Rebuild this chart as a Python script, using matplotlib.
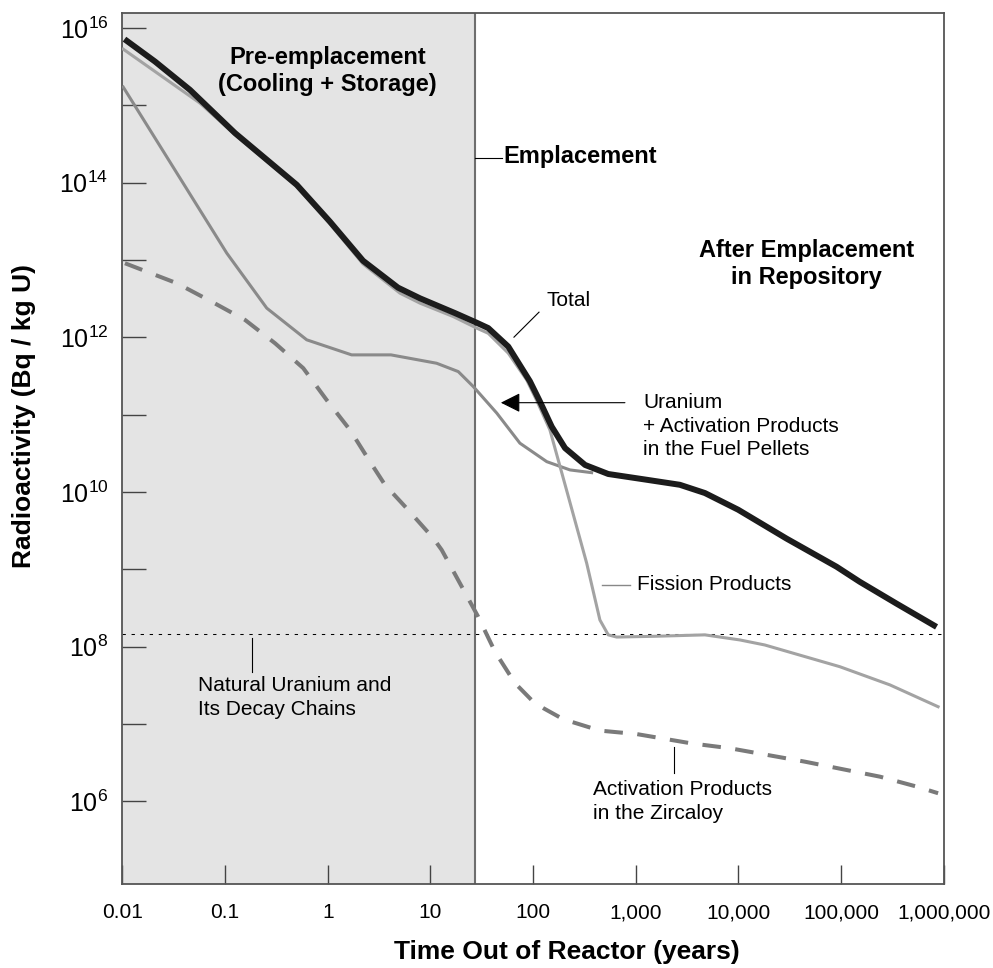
import numpy as np
import matplotlib
matplotlib.use("Agg")
import matplotlib.pyplot as plt
from matplotlib.ticker import NullLocator

plt.rcParams["font.family"] = ["Liberation Sans", "DejaVu Sans"]
plt.rcParams["mathtext.fontset"] = "custom"
plt.rcParams["mathtext.rm"] = "Liberation Sans"
plt.rcParams["mathtext.it"] = "Liberation Sans:italic"
plt.rcParams["mathtext.bf"] = "Liberation Sans:bold"

# ---- data: radioactivity (Bq per kg U) versus time out of reactor (years) ----
total_years = [0.0105, 0.0208, 0.0456, 0.125, 0.5, 1.05, 2.21, 4.84, 7.93, 17.4,
               28.2, 36.6, 57.4, 93.3, 117, 152, 205, 321, 540, 1280,
               2690, 4720, 9950, 29400, 90400, 152000, 347000, 851000]
total_bq = [7.2e15, 3.7e15, 1.59e15, 4.4e14, 9.4e13, 3.15e13, 9.8e12, 4.4e12, 3.2e12, 2.06e12,
            1.55e12, 1.32e12, 7.6e11, 2.7e11, 1.47e11, 7.0e10, 3.7e10, 2.24e10, 1.71e10, 1.44e10,
            1.24e10, 9.7e9, 5.9e9, 2.5e9, 1.08e9, 6.9e8, 3.6e8, 1.8e8]

fission_years = [0.0102, 0.0571, 0.125, 0.5, 1.05, 2.21, 5.06, 7.93, 16.7, 28.2,
                 36.6, 57.4, 86.7, 108, 146, 212, 333, 448, 540, 652,
                 1500, 4720, 10350, 18100, 97300, 299000, 881000]
fission_bq = [5.35e15, 1.07e15, 4.2e14, 8.9e13, 2.95e13, 8.9e12, 3.73e12, 2.77e12, 1.86e12, 1.32e12,
              1.13e12, 6.25e11, 2.82e11, 1.55e11, 6.35e10, 1.06e10, 1.2e9, 2.21e8, 1.42e8, 1.33e8,
              1.36e8, 1.42e8, 1.22e8, 1.05e8, 5.5e7, 3.2e7, 1.67e7]

uranium_years = [0.0102, 0.104, 0.255, 0.625, 1.71, 4.13, 11.5, 18.7, 26.2, 44.3,
                 74.5, 136, 229, 372]
uranium_bq = [1.73e15, 1.23e13, 2.39e12, 9.3e11, 5.94e11, 5.94e11, 4.63e11, 3.61e11, 2.31e11, 1.05e11,
              4.28e10, 2.47e10, 1.93e10, 1.78e10]

zircaloy_years = [0.0106, 0.0339, 0.0741, 0.157, 0.307, 0.578, 0.977, 1.65, 2.58, 3.61,
                  5.87, 10.7, 12.9, 19.4, 29.2, 42.6, 66.7, 100, 126, 197,
                  448, 1020, 3500, 8260, 44500, 239000, 543000, 881000]
zircaloy_bq = [9.1e12, 5.02e12, 2.9e12, 1.68e12, 8.4e11, 4.0e11, 1.55e11, 6.35e10, 2.47e10, 1.24e10,
               6.17e9, 2.52e9, 1.78e9, 6.6e8, 2.44e8, 8.6e7, 3.37e7, 1.95e7, 1.6e7, 1.15e7,
               8.2e6, 7.4e6, 5.6e6, 4.85e6, 3.25e6, 2.08e6, 1.55e6, 1.27e6]

natural_uranium_bq = 1.44e8
emplacement_years = 27

x_ticks = [0.01, 0.1, 1, 10, 100, 1e3, 1e4, 1e5, 1e6]
x_tick_labels = ["0.01", "0.1", "1", "10", "100", "1,000", "10,000", "100,000", "1,000,000"]
y_exponents = list(range(6, 17))

# ---- figure ----
fig = plt.figure(figsize=(9.93, 9.68), dpi=100)
ax = fig.add_axes([0.1232, 0.0868, 0.8272, 0.9001])
ax.set_xscale("log")
ax.set_yscale("log")
ax.set_xlim(0.01, 1e6)
ax.set_ylim(10 ** 4.93, 10 ** 16.2)

# storage period shading and emplacement marker
ax.axvspan(0.01, emplacement_years, color="#e4e4e4", lw=0, zorder=0)
ax.axvline(emplacement_years, color="#6e6e6e", lw=1.5, zorder=1)

# natural uranium reference level
ax.axhline(natural_uranium_bq, color="black", lw=0.75, dashes=(3.2, 5.5), zorder=2)

# curves
ax.plot(zircaloy_years, zircaloy_bq, color="#7a7a7a", lw=2.9, dashes=(4.6, 3.6),
        dash_capstyle="butt", zorder=3)
ax.plot(uranium_years, uranium_bq, color="#8a8a8a", lw=2.2, solid_joinstyle="round", zorder=4)
ax.plot(fission_years, fission_bq, color="#a3a3a3", lw=2.2, solid_joinstyle="round", zorder=4)
ax.plot(total_years, total_bq, color="#1c1c1c", lw=4.3, solid_joinstyle="round",
        solid_capstyle="butt", zorder=5)

# axes styling
for s in ax.spines.values():
    s.set_color("#555555")
    s.set_linewidth(1.3)
ax.set_xticks(x_ticks)
ax.set_xticklabels(x_tick_labels)
ax.xaxis.set_minor_locator(NullLocator())
ax.set_yticks([10.0 ** e for e in y_exponents])
ax.set_yticklabels([r"$\mathregular{10^{%d}}$" % e if e % 2 == 0 else "" for e in y_exponents])
ax.yaxis.set_minor_locator(NullLocator())
ax.tick_params(axis="x", direction="in", length=14, width=1, color="#444444",
               pad=14, labelsize=15)
ax.tick_params(axis="y", direction="in", length=17.5, width=1, color="#444444",
               pad=10, labelsize=18)

ax.set_xlabel("Time Out of Reactor (years)", fontsize=19, fontweight="bold", va="center")
ax.xaxis.set_label_coords(0.541, -0.078)
ax.set_ylabel("Radioactivity (Bq / kg U)", fontsize=19, fontweight="bold", va="center")
ax.yaxis.set_label_coords(-0.1197, 0.537)

# region titles
ax.text(1.0, 2.8e15, "Pre-emplacement\n(Cooling + Storage)", ha="center", va="center",
        fontsize=17, fontweight="bold", linespacing=1.2, zorder=6)
ax.text(51, 2.16e14, "Emplacement", ha="left", va="center", fontsize=17,
        fontweight="bold", zorder=6)
ax.plot([emplacement_years, 50], [2.08e14, 2.08e14], color="black", lw=0.8, zorder=6)
ax.text(45900, 9.0e12, "After Emplacement\nin Repository", ha="center", va="center",
        fontsize=17, fontweight="bold", linespacing=1.22, zorder=6)

# curve labels
ax.text(135.5, 2.97e12, "Total", ha="left", va="center", fontsize=15, zorder=6)
ax.plot([65.2, 114.3], [1.007e12, 2.12e12], color="black", lw=0.8, zorder=6)

ax.text(1183, 7.1e10, "Uranium\n+ Activation Products\nin the Fuel Pellets", ha="left",
        va="center", fontsize=15, linespacing=1.32, zorder=6)
ax.annotate("", xy=(48.6, 1.43e11), xytext=(785, 1.43e11),
            arrowprops=dict(arrowstyle="-|>,head_length=0.6,head_width=0.3",
                            mutation_scale=20, color="black", lw=0.8,
                            shrinkA=0, shrinkB=0), zorder=6)

ax.text(1035, 6.3e8, "Fission Products", ha="left", va="center", fontsize=15, zorder=6)
ax.plot([466, 877], [6.3e8, 6.3e8], color="#888888", lw=1, zorder=6)

ax.text(0.0542, 2.18e7, "Natural Uranium and\nIts Decay Chains", ha="left", va="center",
        fontsize=15, linespacing=1.35, zorder=6)
ax.plot([0.1845, 0.1845], [1.29e8, 4.75e7], color="black", lw=0.8, zorder=6)

ax.text(380, 1.0e6, "Activation Products\nin the Zircaloy", ha="left", va="center",
        fontsize=15, linespacing=1.35, zorder=6)
ax.plot([2355, 2355], [5.08e6, 2.34e6], color="black", lw=0.8, zorder=6)

fig.savefig("out.png", dpi=100)
